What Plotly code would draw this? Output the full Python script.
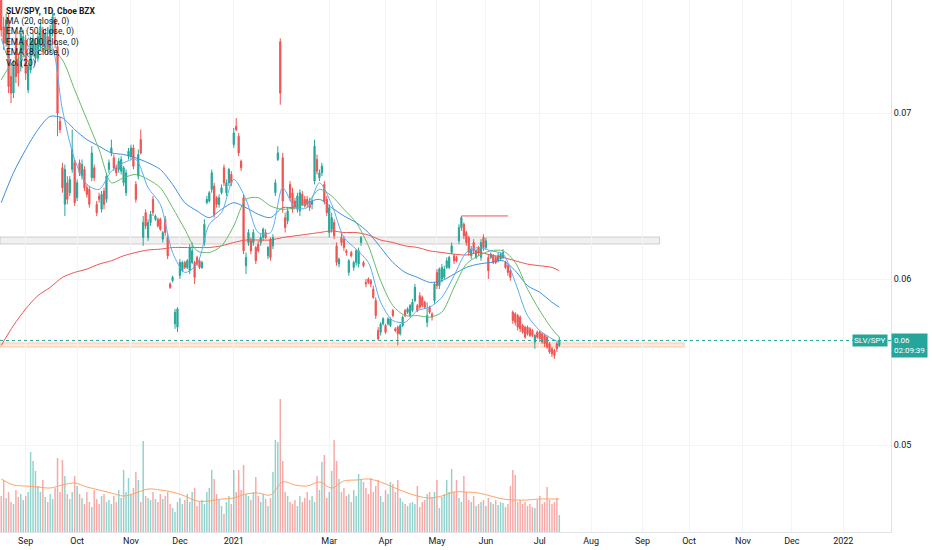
import numpy as np
import plotly.graph_objects as go

# SLV/SPY daily candles, Aug 18 2020 .. Jul 14 2021
# prices are written in units of 0.0001 (700 -> 0.0700)
SCALE = 1e-4

opens = [
    768, 752, 742, 756, 722, 712, 745, 730, 728, 738,
    744, 714, 726, 736, 733, 733, 740, 750, 738, 746,
    738, 748, 756, 740, 695, 667, 645, 658, 652, 666,
    670, 649, 670, 662, 666, 655, 654, 661, 667, 645,
    650, 642, 653, 648, 666, 676, 673, 667, 666, 665,
    658, 652, 674, 674, 679, 657, 662, 684, 625, 640,
    625, 634, 648, 636, 636, 636, 624, 636, 625, 597,
    599, 573, 571, 602, 605, 610, 607, 605, 610, 610,
    613, 611, 607, 622, 646, 647, 654, 656, 649, 645,
    652, 667, 652, 658, 663, 681, 692, 686, 671, 649,
    608, 622, 623, 622, 619, 621, 622, 625, 628, 614,
    624, 620, 652, 672, 743, 673, 637, 635, 657, 652,
    647, 642, 641, 651, 648, 648, 646, 645, 659, 672,
    661, 664, 657, 648, 628, 630, 634, 620, 609, 625,
    624, 617, 604, 616, 607, 610, 609, 622, 610, 598,
    600, 599, 594, 587, 569, 568, 573, 572, 573, 572,
    581, 570, 571, 567, 572, 581, 580, 578, 581, 587,
    584, 590, 589, 586, 574, 583, 579, 587, 604, 596,
    600, 601, 607, 607, 616, 614, 613, 623, 631, 633,
    628, 625, 614, 622, 613, 619, 613, 625, 619, 613,
    613, 614, 613, 611, 612, 613, 610, 608, 605, 580,
    579, 578, 577, 572, 571, 571, 570, 569, 562, 568,
    568, 567, 566, 565, 561, 558, 557, 561, 560,
]
highs = [
    772, 758, 760, 760, 730, 732, 750, 736, 752, 750,
    747, 730, 746, 748, 745, 749, 756, 752, 751, 748,
    753, 762, 758, 742, 698, 670, 669, 662, 662, 690,
    672, 660, 672, 672, 668, 657, 656, 680, 669, 647,
    652, 653, 655, 664, 672, 684, 675, 669, 673, 674,
    668, 666, 679, 681, 681, 659, 678, 690, 638, 642,
    636, 641, 650, 639, 637, 637, 629, 638, 627, 598,
    602, 582, 583, 612, 611, 611, 612, 621, 622, 611,
    614, 612, 611, 636, 650, 653, 666, 658, 650, 651,
    657, 669, 660, 667, 665, 691, 697, 688, 672, 651,
    616, 630, 625, 630, 620, 623, 627, 631, 630, 620,
    625, 627, 660, 680, 745, 676, 640, 643, 659, 655,
    649, 652, 654, 653, 650, 650, 649, 648, 684, 675,
    666, 670, 659, 650, 645, 640, 636, 622, 613, 628,
    626, 618, 612, 617, 611, 618, 619, 626, 611, 600,
    601, 600, 596, 589, 571, 574, 577, 573, 577, 577,
    582, 571, 572, 573, 578, 582, 583, 585, 588, 597,
    585, 592, 590, 587, 586, 584, 580, 598, 606, 607,
    609, 608, 613, 614, 622, 615, 614, 633, 638, 634,
    629, 626, 620, 624, 618, 620, 624, 627, 625, 615,
    616, 615, 614, 616, 616, 618, 611, 609, 606, 581,
    580, 579, 578, 573, 572, 572, 571, 570, 567, 569,
    569, 568, 567, 566, 562, 559, 558, 562, 565,
]
lows = [
    746, 738, 740, 712, 706, 709, 718, 716, 725, 734,
    720, 712, 724, 734, 730, 731, 738, 737, 736, 735,
    736, 746, 739, 686, 688, 652, 638, 645, 650, 664,
    644, 647, 662, 660, 653, 649, 643, 659, 659, 638,
    646, 640, 642, 646, 664, 674, 665, 662, 664, 663,
    656, 650, 672, 672, 666, 646, 660, 675, 620, 630,
    623, 632, 638, 635, 631, 629, 622, 626, 612, 594,
    598, 570, 568, 600, 604, 606, 606, 603, 609, 597,
    608, 606, 606, 620, 645, 646, 652, 637, 643, 643,
    651, 656, 650, 656, 656, 679, 689, 674, 665, 615,
    603, 620, 615, 620, 609, 616, 620, 623, 624, 612,
    611, 618, 650, 671, 705, 640, 628, 633, 647, 640,
    642, 640, 638, 644, 643, 643, 641, 642, 657, 663,
    659, 662, 645, 638, 625, 628, 624, 608, 607, 620,
    617, 614, 602, 613, 605, 608, 607, 620, 607, 595,
    597, 595, 588, 576, 563, 566, 572, 567, 572, 571,
    577, 568, 560, 566, 571, 577, 579, 577, 580, 586,
    580, 582, 583, 582, 571, 579, 575, 585, 594, 594,
    598, 600, 606, 606, 615, 609, 610, 621, 629, 624,
    620, 614, 612, 615, 612, 614, 611, 617, 618, 600,
    612, 609, 609, 610, 611, 612, 606, 602, 599, 573,
    572, 569, 568, 567, 564, 566, 565, 565, 558, 564,
    562, 561, 559, 558, 555, 553, 552, 556, 559,
]
closes = [
    750, 742, 756, 716, 712, 728, 722, 724, 748, 746,
    724, 728, 744, 745, 742, 746, 752, 740, 748, 738,
    750, 758, 742, 700, 690, 655, 666, 648, 660, 678,
    646, 658, 664, 669, 655, 651, 645, 676, 661, 640,
    648, 651, 645, 662, 670, 679, 667, 664, 671, 672,
    667, 664, 677, 679, 668, 648, 675, 676, 634, 632,
    634, 639, 640, 638, 632, 630, 628, 628, 614, 595,
    601, 580, 582, 610, 610, 607, 611, 619, 617, 601,
    609, 607, 610, 633, 648, 652, 664, 639, 645, 649,
    655, 658, 658, 666, 658, 688, 690, 676, 667, 617,
    613, 628, 617, 628, 611, 617, 625, 630, 625, 619,
    613, 625, 658, 676, 712, 647, 631, 641, 649, 642,
    643, 650, 652, 645, 644, 645, 643, 647, 680, 665,
    664, 668, 647, 640, 643, 637, 626, 610, 612, 622,
    619, 616, 611, 614, 610, 617, 617, 625, 608, 597,
    598, 597, 589, 578, 564, 573, 576, 568, 576, 576,
    578, 569, 567, 572, 577, 578, 582, 584, 586, 595,
    581, 583, 584, 583, 578, 580, 577, 597, 596, 606,
    607, 606, 611, 613, 620, 611, 611, 631, 637, 626,
    622, 616, 618, 617, 617, 616, 622, 619, 623, 605,
    615, 610, 610, 614, 615, 616, 607, 604, 601, 575,
    574, 571, 570, 568, 565, 567, 566, 566, 566, 565,
    564, 562, 561, 559, 556, 555, 554, 558, 563,
]
volumes = [
    36, 52, 34, 40, 30, 28, 42, 35, 38, 32,
    36, 40, 80, 71, 61, 46, 40, 52, 35, 30,
    38, 33, 44, 74, 40, 72, 56, 38, 33, 40,
    56, 46, 38, 34, 28, 40, 30, 25, 42, 33,
    28, 36, 38, 30, 32, 28, 36, 30, 42, 34,
    62, 40, 54, 38, 44, 60, 52, 30, 91, 36,
    34, 32, 40, 33, 30, 38, 33, 36, 40, 28,
    24, 20, 30, 34, 28, 32, 38, 30, 40, 44,
    26, 30, 32, 28, 40, 44, 62, 53, 38, 32,
    26, 18, 30, 36, 28, 62, 40, 62, 42, 67,
    38, 36, 32, 40, 55, 36, 30, 38, 33, 26,
    34, 60, 92, 90, 133, 71, 40, 36, 30, 28,
    32, 26, 36, 30, 34, 40, 32, 36, 30, 56,
    42, 70, 77, 34, 40, 61, 92, 71, 53, 40,
    44, 36, 38, 30, 42, 36, 58, 53, 50, 44,
    38, 54, 40, 46, 52, 36, 30, 42, 38, 50,
    48, 40, 52, 34, 30, 28, 26, 29, 30, 28,
    46, 25, 30, 32, 38, 40, 35, 40, 52, 24,
    35, 38, 52, 40, 63, 40, 52, 34, 30, 56,
    40, 32, 30, 36, 26, 28, 30, 32, 26, 34,
    30, 28, 32, 27, 30, 29, 25, 28, 46, 62,
    57, 30, 32, 28, 30, 26, 28, 25, 24, 32,
    36, 28, 30, 45, 32, 28, 30, 34, 17,
]

# indicator lines every 5th bar (plus the last bar)
ma20 = [720, 731, 735, 738, 739, 732, 714, 696, 678, 658, 661, 663, 660, 655, 643, 630,
        617, 616, 620, 632, 648, 649, 644, 642, 643, 646, 654, 650, 642, 634, 620, 599,
        584, 578, 578, 577, 580, 595, 609, 614, 617, 617, 610, 594, 581, 570, 565]
ema50 = [646, 664, 678, 690, 698, 697, 690, 684, 680, 676, 675, 673, 670, 666, 657, 646,
         641, 637, 642, 646, 643, 639, 637, 643, 643, 646, 648, 643, 638, 634, 628, 619,
         610, 604, 601, 598, 599, 603, 607, 609, 610, 611, 605, 596, 592, 586, 583]
ema200 = [560, 572, 582, 590, 595, 601, 604, 606, 609, 611, 614, 616, 617.5, 618, 619, 619,
          619, 619, 620, 622, 623.5, 623.5, 623.5, 625, 626, 627, 628, 629, 628, 628, 626.5, 623.5,
          622, 620, 619, 617, 616, 615, 614.5, 616, 614.5, 613, 611, 609, 608, 607, 605]
ema8 = [745, 728, 735, 738, 742, 702, 672, 657, 654, 665, 670, 672, 655, 645, 616, 604,
        609, 633, 640, 660, 648, 628, 628, 655, 643, 643, 658, 645, 625, 618, 610, 586,
        575, 574, 581, 583, 589, 602, 616, 619, 617, 615, 598, 578, 569, 564, 562]
vol_ma20 = [53, 47, 46, 45, 44, 47, 49, 45, 42, 39, 36, 39, 43, 42, 40, 36,
            31, 31, 33, 34, 38, 39, 37, 50, 47, 46, 50, 44, 51, 52, 53, 50,
            45, 40, 36, 34, 36, 40, 40, 39, 36, 33, 32, 32, 33, 33, 33]

month_ticks = [10, 31, 53, 73, 95, 134, 157, 178, 198, 220, 241, 262, 281, 303, 323, 344]
month_labels = ["Sep", "Oct", "Nov", "Dec", "2021", "Mar", "Apr", "May", "Jun", "Jul",
                "Aug", "Sep", "Oct", "Nov", "Dec", "2022"]

# drawings on the chart (price levels, same units)
resistance_zone = (621.1, 625.3)
resistance_end = 269
support_zone = (559.0, 561.5)
support_end = 279
top_line = 638
top_line_span = (188, 207)

UP = "#26a69a"
DOWN = "#ef5350"
FONT = "Roboto, Liberation Sans, sans-serif"

o = np.array(opens) * SCALE
h = np.array(highs) * SCALE
l = np.array(lows) * SCALE
c = np.array(closes) * SCALE
x = np.arange(len(closes))
sample_x = list(range(0, len(closes), 5)) + [len(closes) - 1]
vol_colors = ["rgba(38,166,154,0.5)" if cc >= oo else "rgba(239,83,80,0.5)"
              for oo, cc in zip(opens, closes)]

fig = go.Figure()

fig.add_trace(go.Bar(x=x, y=volumes, marker_color=vol_colors, marker_line_width=0,
                     width=0.6, yaxis="y2", hoverinfo="skip"))
fig.add_trace(go.Scatter(x=sample_x, y=vol_ma20, mode="lines", yaxis="y2",
                         line=dict(color="#ffa366", width=1, shape="spline")))

for vals, color in [(ema200, "#ef5350"), (ema50, "#3d8fe0"), (ma20, "#66bb6a"), (ema8, "#5aaef2")]:
    fig.add_trace(go.Scatter(x=sample_x, y=np.array(vals) * SCALE, mode="lines",
                             line=dict(color=color, width=1, shape="spline", smoothing=0.8)))

fig.add_trace(go.Candlestick(
    x=x, open=o, high=h, low=l, close=c,
    increasing=dict(line=dict(color=UP, width=1), fillcolor=UP),
    decreasing=dict(line=dict(color=DOWN, width=1), fillcolor=DOWN),
    whiskerwidth=0,
))

# zones and levels
fig.add_shape(type="rect", x0=-0.5, x1=resistance_end,
              y0=resistance_zone[0] * SCALE, y1=resistance_zone[1] * SCALE,
              fillcolor="rgba(205,205,205,0.3)", line=dict(color="rgba(200,185,185,0.7)", width=1),
              layer="below")
fig.add_shape(type="rect", x0=-0.5, x1=support_end,
              y0=support_zone[0] * SCALE, y1=support_zone[1] * SCALE,
              fillcolor="rgba(255,190,150,0.35)", line=dict(color="rgba(250,190,160,0.8)", width=1),
              layer="below")
fig.add_shape(type="line", x0=top_line_span[0], x1=top_line_span[1],
              y0=top_line * SCALE, y1=top_line * SCALE, line=dict(color="#ef5350", width=1))
fig.add_shape(type="line", xref="paper", x0=0, x1=1, y0=c[-1], y1=c[-1],
              line=dict(color=UP, width=1, dash="dot"))

# legend text top-left
legend_lines = ["<b>SLV/SPY, 1D, Cboe BZX</b>", "MA (20, close, 0)", "EMA (50, close, 0)",
                "EMA (200, close, 0)", "EMA (8, close, 0)", "Vol (20)"]
for k, txt in enumerate(legend_lines):
    fig.add_annotation(text=txt, xref="paper", yref="paper", x=0.005, y=1 - (10.5 + 10.6 * k) / 532,
                       xanchor="left", yanchor="middle", showarrow=False,
                       font=dict(family=FONT, size=8.5, color="#131722"))

# price labels on the right
fig.add_annotation(text="SLV/SPY", xref="paper", yref="y", x=0.997, y=c[-1],
                   xanchor="right", yanchor="middle", showarrow=False, bgcolor=UP,
                   borderpad=1, font=dict(family=FONT, size=8, color="white"))
fig.add_annotation(text="0.06<br>02:09:39", xref="paper", yref="y", x=1.0, y=c[-1] + 0.00045,
                   xanchor="left", yanchor="top", showarrow=False, bgcolor=UP, align="left",
                   borderpad=2, font=dict(family=FONT, size=8, color="white"))

fig.update_layout(
    width=932, height=550,
    margin=dict(l=0, r=41, t=0, b=18),
    paper_bgcolor="white", plot_bgcolor="white",
    showlegend=False,
    font=dict(family=FONT, size=9, color="#131722"),
    xaxis=dict(range=[-0.5, 363.5], tickvals=month_ticks, ticktext=month_labels,
               showgrid=True, gridcolor="#f3f4f7", zeroline=False, showline=True,
               linecolor="#e0e3eb", ticks="", rangeslider=dict(visible=False),
               tickfont=dict(size=9), automargin=False),
    yaxis=dict(range=[0.04476, 0.07681], side="right", tickvals=[0.05, 0.06, 0.07],
               ticktext=["0.05", "0.06", "0.07"], showgrid=True, gridcolor="#f3f4f7",
               zeroline=False, showline=True, linecolor="#e0e3eb", ticks="",
               tickfont=dict(size=9), automargin=False),
    yaxis2=dict(overlaying="y", range=[0, 532], visible=False, fixedrange=True),
    bargap=0.3,
)

# the page's default body margin would shift the chart by 8px
fig.write_html("out.html", config={"displayModeBar": False},
               post_script="document.body.style.margin='0';")
